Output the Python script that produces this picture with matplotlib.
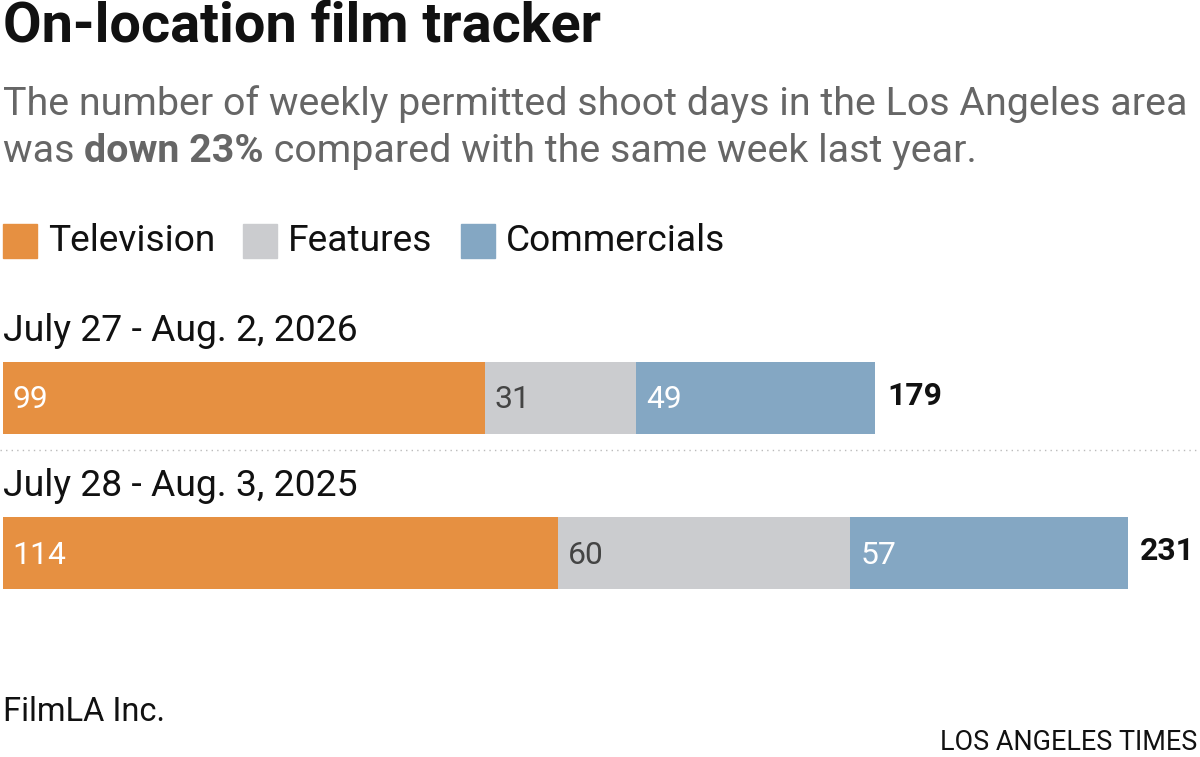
import matplotlib
matplotlib.use("Agg")
import matplotlib.pyplot as plt

weeks = ["July 27 - Aug. 2, 2026", "July 28 - Aug. 3, 2025"]
categories = ["Television", "Features", "Commercials"]
values = [[99, 31, 49], [114, 60, 57]]
colors = ["#e69041", "#cbcccf", "#84a7c3"]
label_colors = ["white", "#444444", "white"]

plt.rcParams['font.family'] = ['Roboto', 'DejaVu Sans']

fig = plt.figure(figsize=(12, 7.57), dpi=100)
W, H = 1200, 757
px = 4.87  # pixels per shoot day

tx = fig.add_axes([0, 0, 1, 1])
tx.set_xlim(0, W)
tx.set_ylim(H, 0)
tx.axis("off")
renderer = fig.canvas.get_renderer()


def fit_size(s, width, weight="normal"):
    t = tx.text(0, 0, s, fontsize=20, fontweight=weight)
    w = t.get_window_extent(renderer).width
    t.remove()
    return 20 * width / w


def chain(x, y, parts, **kw):
    for s, weight in parts:
        t = tx.text(x, y, s, fontweight=weight, **kw)
        x += t.get_window_extent(renderer).width
    return x


title = "On-location film tracker"
tx.text(3, 26, title, fontsize=fit_size(title, 597, "bold"), fontweight="bold",
        va="center", color="#111111")
line1 = "The number of weekly permitted shoot days in the Los Angeles area"
sub_fs = fit_size(line1, 1182)
tx.text(3, 104, line1, fontsize=sub_fs, color="#666666", va="center")
chain(3, 152, [("was ", "normal"), ("down 23%", "bold"),
               (" compared with the same week last year.", "normal")],
      fontsize=sub_fs, color="#666666", va="center")

leg_fs = fit_size("Television", 167)
leg_x = [3, 243, 461]
for x, c, name in zip(leg_x, colors, categories):
    tx.add_patch(plt.Rectangle((x, 224), 34, 34, color=c))
    tx.text(x + 45, 241, name, fontsize=leg_fs, va="center", color="#111111")

tx.plot([0, W], [450, 450], ls=(0, (1, 3)), color="#bbbbbb", lw=1)
tx.text(3, 712, "FilmLA Inc.", fontsize=fit_size("FilmLA Inc.", 162), va="center", color="#111111")
tx.text(1197, 742, "LOS ANGELES TIMES", fontsize=fit_size("LOS ANGELES TIMES", 257),
        va="center", ha="right", color="#111111")

lab_fs = fit_size(weeks[0], 355)
val_fs = fit_size("179", 55, "bold")

ax = fig.add_axes([3 / W, 0, (W - 3) / W, 1])
ax.set_xlim(0, (W - 3) / px)
ax.set_ylim(H, 0)
ax.axis("off")
centers = [398, 553]
for wk, vals, yc in zip(weeks, values, centers):
    left = 0
    for v, c, lc in zip(vals, colors, label_colors):
        ax.barh(yc, v, left=left, height=72, color=c)
        ax.text(left + 2, yc + 2, str(v), fontsize=val_fs, color=lc, va="center")
        left += v
    ax.text(left + 2.5, yc - 2, str(left), fontsize=val_fs, fontweight="bold", va="center", color="#111111")
    ax.text(0, yc - 67, wk, fontsize=lab_fs, va="center", color="#111111")

fig.savefig("out.png", dpi=100)
